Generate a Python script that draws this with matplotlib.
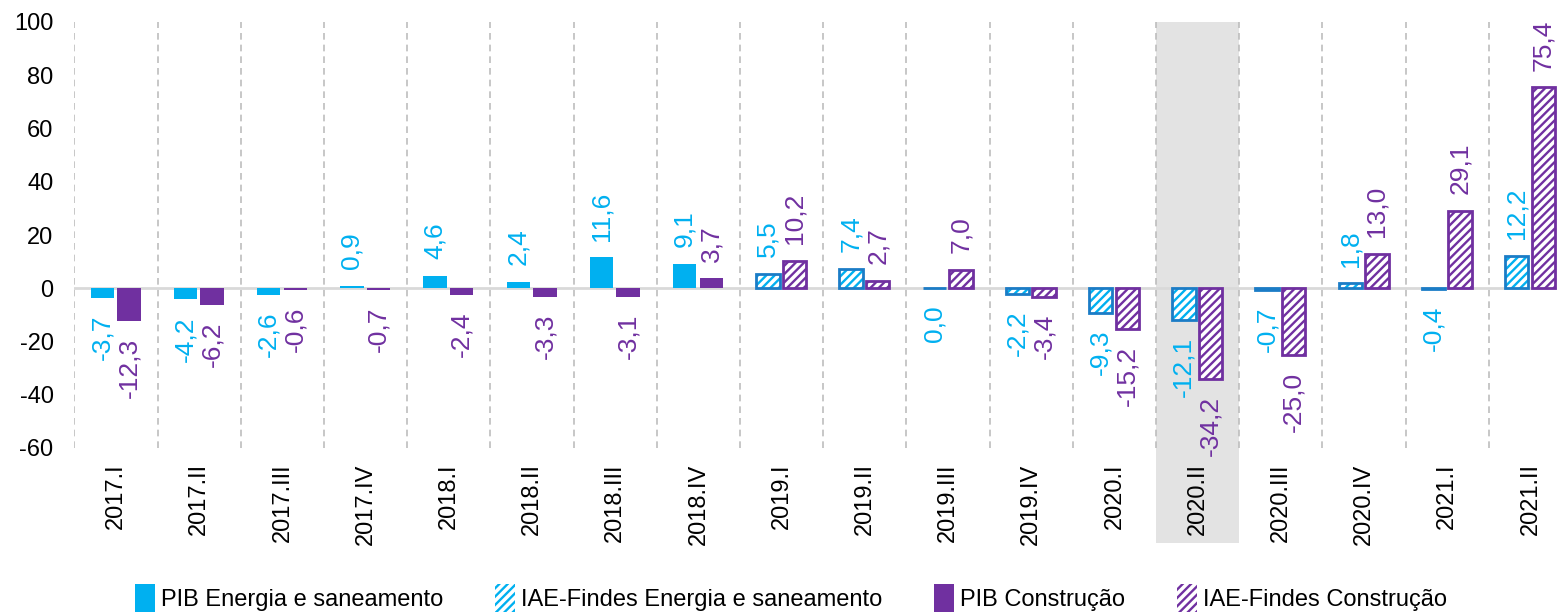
import numpy as np
import matplotlib
matplotlib.use('Agg')
import matplotlib.pyplot as plt
from matplotlib.patches import Patch, Rectangle

plt.rcParams['font.family'] = ['Liberation Sans', 'DejaVu Sans']
plt.rcParams['hatch.linewidth'] = 1.7
plt.rcParams['axes.unicode_minus'] = False

cats = ['2017.I', '2017.II', '2017.III', '2017.IV', '2018.I', '2018.II', '2018.III', '2018.IV',
        '2019.I', '2019.II', '2019.III', '2019.IV', '2020.I', '2020.II', '2020.III', '2020.IV',
        '2021.I', '2021.II']
energia = [-3.7, -4.2, -2.6, 0.9, 4.6, 2.4, 11.6, 9.1, 5.5, 7.4, 0.0, -2.2, -9.3, -12.1,
           -0.7, 1.8, -0.4, 12.2]
construcao = [-12.3, -6.2, -0.6, -0.7, -2.4, -3.3, -3.1, 3.7, 10.2, 2.7, 7.0, -3.4, -15.2,
              -34.2, -25.0, 13.0, 29.1, 75.4]
n_pib = 8            # first 8 quarters are PIB, the rest IAE-Findes
destaque = '2020.II'  # shaded quarter

blue = '#00B0F0'
blue_edge = '#1B7CC6'
purple = '#7030A0'
hatch = '////'

fig = plt.figure(figsize=(15.57, 6.12), dpi=100)
ax = fig.add_axes([74.4 / 1557, 1 - 448 / 612, 18 * 83.2 / 1557, 426 / 612])

x = np.arange(len(cats))
w = 0.28
off_e, off_c = -0.165, 0.155

for i in x:
    for val, off, col, edge in [(energia[i], off_e, blue, blue_edge),
                                (construcao[i], off_c, purple, purple)]:
        if i < n_pib:
            ax.bar(i + off, val, w, color=col, zorder=3)
        else:
            ax.bar(i + off, val, w, facecolor='white', edgecolor=col, hatch=hatch,
                   linewidth=0, zorder=3)
            ax.bar(i + off, val, w, facecolor='none', edgecolor=edge, linewidth=2, zorder=4)
        txt = f'{val:.1f}'.replace('.', ',')
        if val > 0:
            ax.annotate(txt, (i + off, val), xytext=(0, 12), textcoords='offset points',
                        rotation=90, ha='center', va='bottom', color=col, fontsize=19)
        else:
            ax.annotate(txt, (i + off, val), xytext=(0, -12), textcoords='offset points',
                        rotation=90, ha='center', va='top', color=col, fontsize=19)

# shaded quarter, extends below the axis over the tick label
k = cats.index(destaque)
ax.add_patch(Rectangle((k - 0.5, -95.7), 1, 195.7, facecolor='#E3E3E3', edgecolor='none',
                       clip_on=False, zorder=0.2))

ax.axhline(0, color='#D9D9D9', lw=2, zorder=2)

ax.set_xlim(-0.5, len(cats) - 0.5)
ax.set_ylim(-60, 100)
ax.set_yticks(np.arange(-60, 101, 20))
ax.set_xticks(x)
ax.set_xticklabels(cats, rotation=90, fontsize=17)
ax.set_xticks(np.arange(-0.5, len(cats), 1), minor=True)
ax.tick_params(axis='y', length=0, pad=15, labelsize=17)
ax.tick_params(axis='x', which='both', length=0, pad=11)
ax.grid(axis='x', which='minor', color='#BDBDBD', linestyle=(0, (4, 3)), lw=1.2)
ax.set_axisbelow(True)
for s in ax.spines.values():
    s.set_visible(False)

handles = [Patch(facecolor=blue, edgecolor='none', label='PIB Energia e saneamento'),
           Patch(facecolor='white', edgecolor=blue, hatch=hatch, lw=0,
                 label='IAE-Findes Energia e saneamento'),
           Patch(facecolor=purple, edgecolor='none', label='PIB Construção'),
           Patch(facecolor='white', edgecolor=purple, hatch=hatch, lw=0,
                 label='IAE-Findes Construção')]
fig.legend(handles=handles, loc='center', bbox_to_anchor=(791 / 1557, 1 - 598 / 612),
           ncol=4, frameon=False, fontsize=17, handlelength=0.85, handleheight=1.5,
           handletextpad=0.25, columnspacing=2.2)

fig.savefig('out.png', dpi=100)
